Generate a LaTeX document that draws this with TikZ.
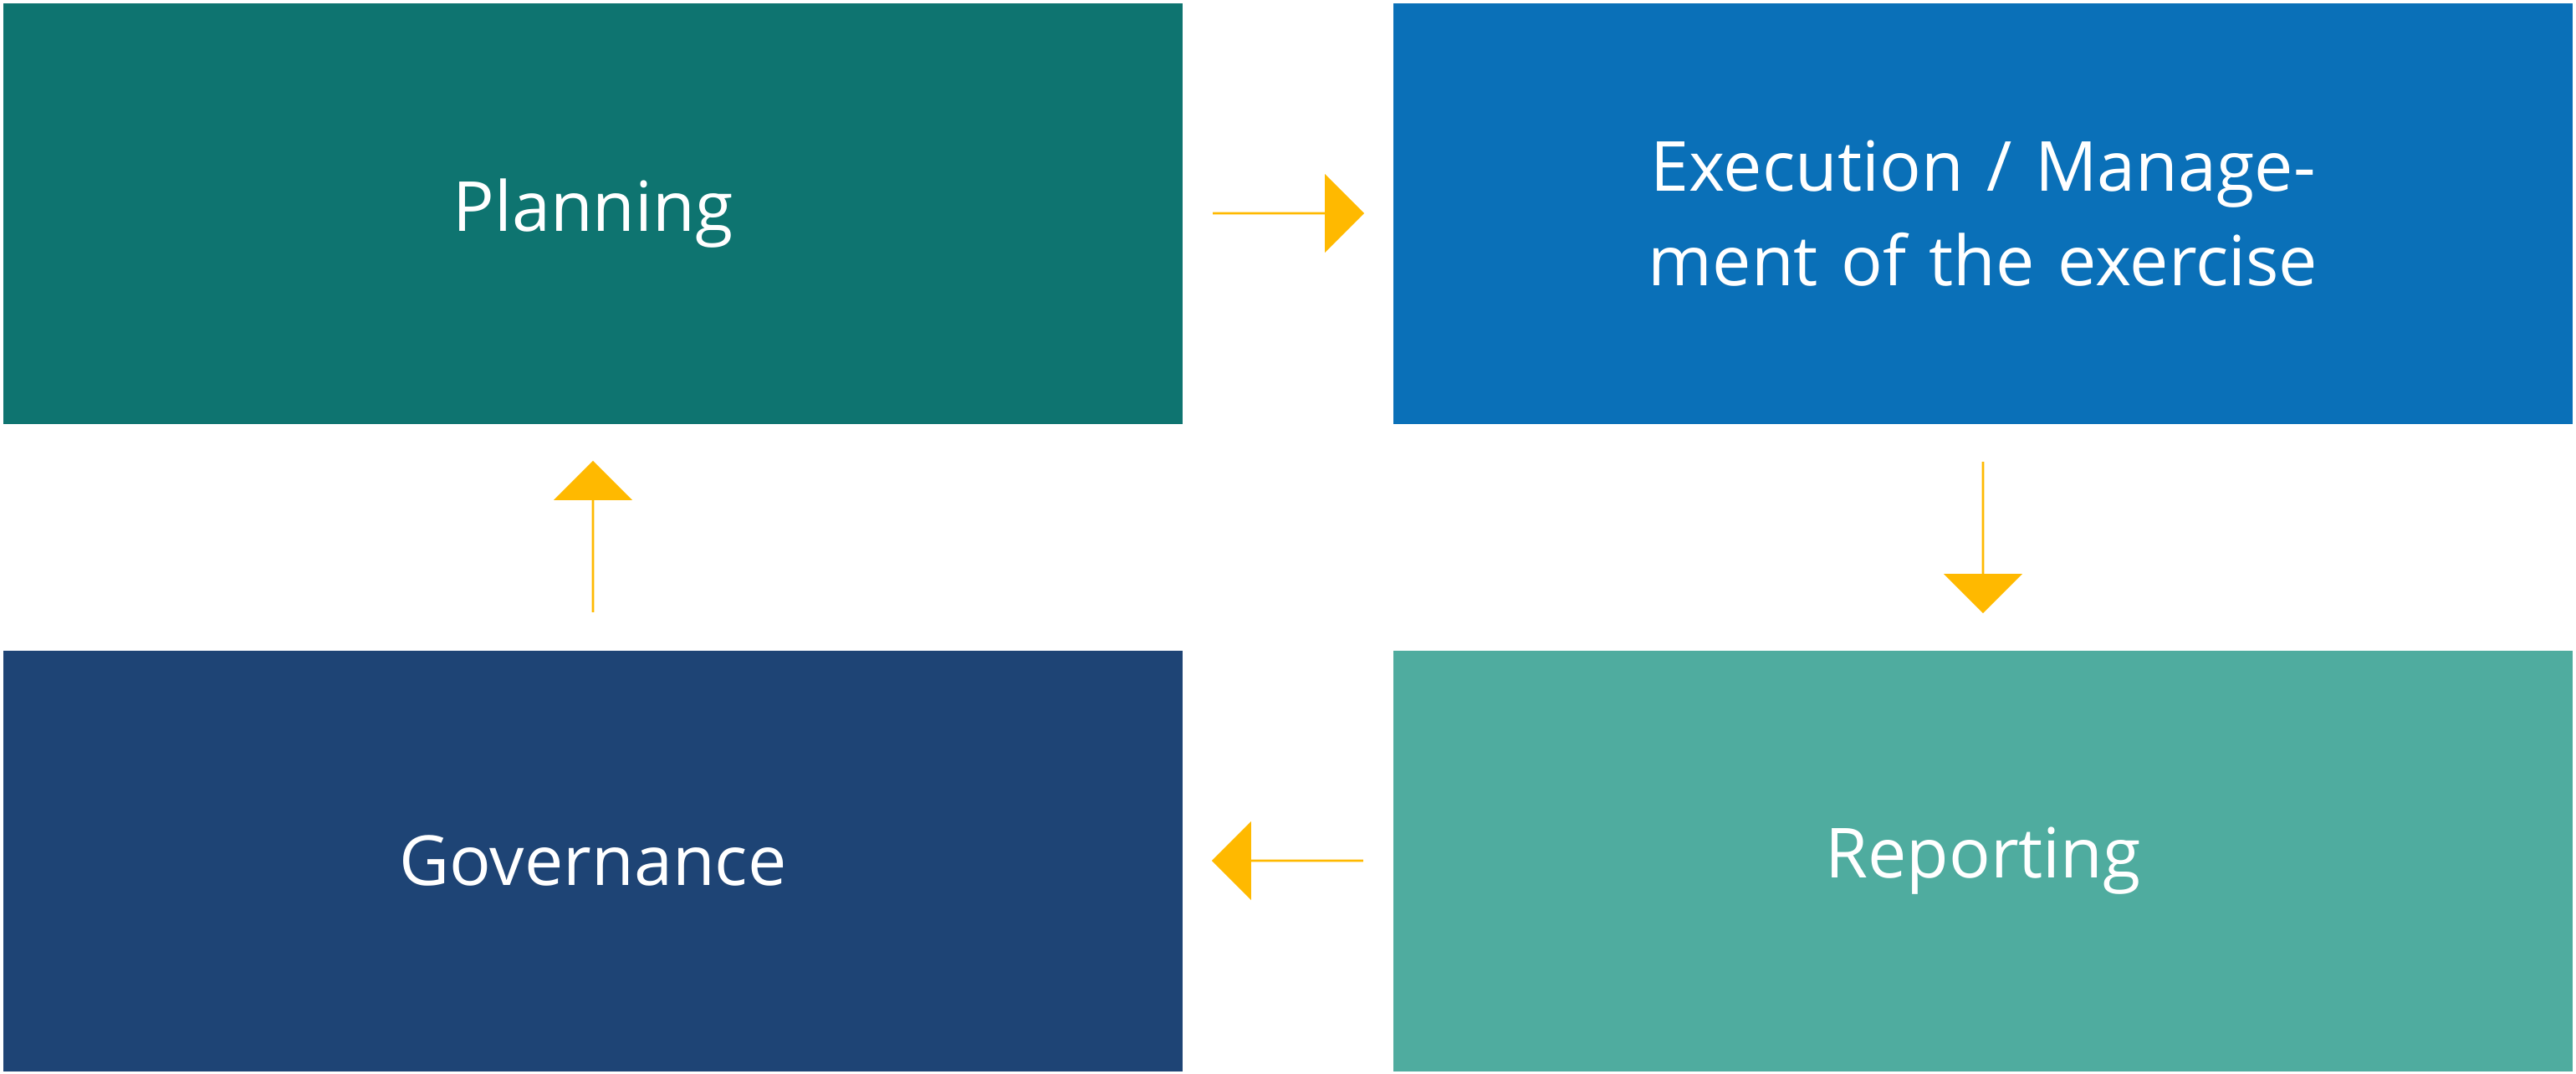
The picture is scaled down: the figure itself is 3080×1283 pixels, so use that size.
\documentclass[tikz,border=0pt]{standalone}
\usepackage{fontspec}
\setmainfont{Open Sans}
\usetikzlibrary{shapes.arrows,calc}
\definecolor{planc}{HTML}{0E7470}
\definecolor{execc}{HTML}{0A70B8}
\definecolor{repc}{HTML}{4FAC9F}
\definecolor{govc}{HTML}{1E4475}
\definecolor{arrc}{HTML}{FFB900}
\tikzset{
  box/.style={rectangle, inner sep=0pt, minimum width=14.1cm, minimum height=5.03cm,
    text=white, font=\fontsize{23.5}{32}\selectfont, align=center},
  flowarrow/.style={single arrow, fill=arrc, draw=none, inner sep=0pt,
    minimum height=1.81cm, minimum width=0.94cm, single arrow head extend=0.235cm,
    single arrow tip angle=90}
}
\begin{document}
\begin{tikzpicture}[x=0.1mm,y=-0.1mm]
    \useasboundingbox (0,0) rectangle (3080,1283);

    \node[box, fill=planc] (plan) at (709,255) {Planning};
    \node[box, fill=execc, text width=12.6cm] (exec) at (2371,255) {Execution / Management of the exercise};
    \node[box, fill=repc] (rep) at (2371,1029) {Reporting};
    \node[box, fill=govc] (gov) at (709,1029) {Governance};

    \node[flowarrow] (a1) at ($(plan.east)!0.5!(exec.west)$) {};
    \node[flowarrow, shape border rotate=270] (a2) at ($(exec.south)!0.5!(rep.north)$) {};
    \node[flowarrow, shape border rotate=180] (a3) at ($(rep.west)!0.5!(gov.east)$) {};
    \node[flowarrow, shape border rotate=90] (a4) at ($(gov.north)!0.5!(plan.south)$) {};
\end{tikzpicture}
\end{document}
